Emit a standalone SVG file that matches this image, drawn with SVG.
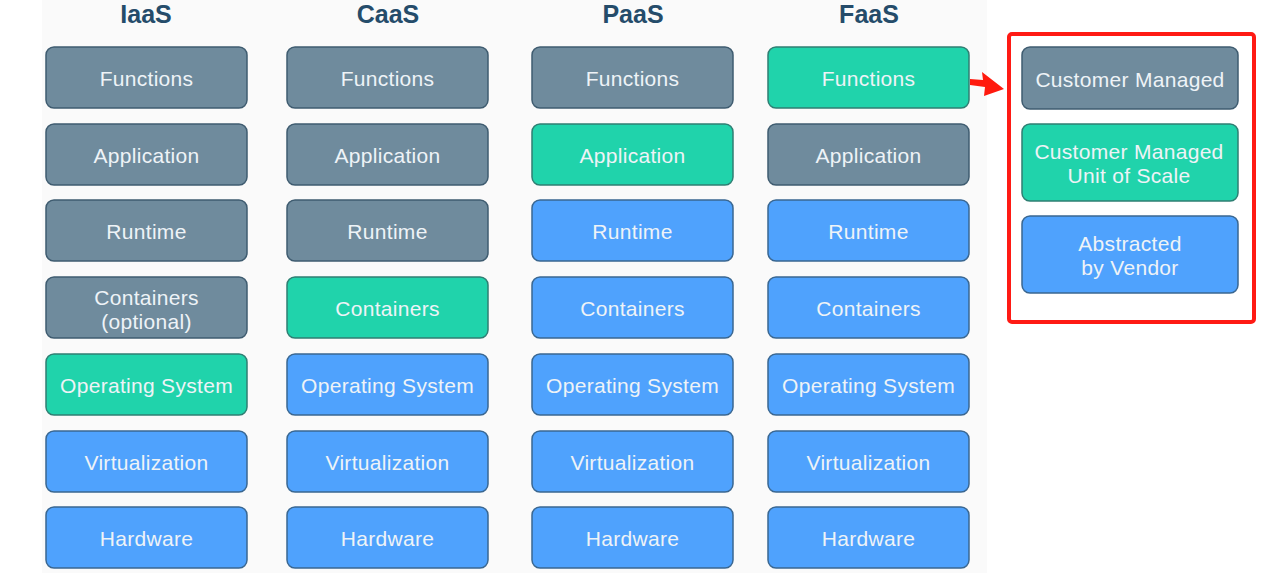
<svg xmlns="http://www.w3.org/2000/svg" width="1283" height="587" viewBox="0 0 1283 587">
<style>
.t{font-family:"Liberation Sans",Arial,sans-serif;font-size:21px;fill:#eef3f7;text-anchor:middle;dominant-baseline:central;letter-spacing:0.3px}
.h{font-family:"Liberation Sans",Arial,sans-serif;font-size:25px;font-weight:bold;fill:#254c6a;text-anchor:middle}
.g{fill:#6f8b9d;stroke:#3f5c70;stroke-width:1.5}
.c{fill:#20d3ab;stroke:#2f7f73;stroke-width:1.5}
.b{fill:#4fa2fd;stroke:#3a6791;stroke-width:1.5}
</style>
<rect width="1283" height="587" fill="#ffffff"/>
<rect x="42" y="0" width="945" height="573" fill="#fafafa"/>
<text class="h" x="146" y="23">IaaS</text>
<text class="h" x="388" y="23">CaaS</text>
<text class="h" x="633" y="23">PaaS</text>
<text class="h" x="869" y="23">FaaS</text>
<g id="iaas">
<rect class="g" x="46" y="47" width="201" height="61" rx="8"/><text class="t" x="146.5" y="78">Functions</text>
<rect class="g" x="46" y="124" width="201" height="61" rx="8"/><text class="t" x="146.5" y="155">Application</text>
<rect class="g" x="46" y="200" width="201" height="61" rx="8"/><text class="t" x="146.5" y="231">Runtime</text>
<rect class="g" x="46" y="277" width="201" height="61" rx="8"/><text class="t" x="146.5" y="297">Containers</text><text class="t" x="146.5" y="321">(optional)</text>
<rect class="c" x="46" y="354" width="201" height="61" rx="8"/><text class="t" x="146.5" y="385">Operating System</text>
<rect class="b" x="46" y="431" width="201" height="61" rx="8"/><text class="t" x="146.5" y="462">Virtualization</text>
<rect class="b" x="46" y="507" width="201" height="61" rx="8"/><text class="t" x="146.5" y="538">Hardware</text>
</g>
<g id="caas">
<rect class="g" x="287" y="47" width="201" height="61" rx="8"/><text class="t" x="387.5" y="78">Functions</text>
<rect class="g" x="287" y="124" width="201" height="61" rx="8"/><text class="t" x="387.5" y="155">Application</text>
<rect class="g" x="287" y="200" width="201" height="61" rx="8"/><text class="t" x="387.5" y="231">Runtime</text>
<rect class="c" x="287" y="277" width="201" height="61" rx="8"/><text class="t" x="387.5" y="308">Containers</text>
<rect class="b" x="287" y="354" width="201" height="61" rx="8"/><text class="t" x="387.5" y="385">Operating System</text>
<rect class="b" x="287" y="431" width="201" height="61" rx="8"/><text class="t" x="387.5" y="462">Virtualization</text>
<rect class="b" x="287" y="507" width="201" height="61" rx="8"/><text class="t" x="387.5" y="538">Hardware</text>
</g>
<g id="paas">
<rect class="g" x="532" y="47" width="201" height="61" rx="8"/><text class="t" x="632.5" y="78">Functions</text>
<rect class="c" x="532" y="124" width="201" height="61" rx="8"/><text class="t" x="632.5" y="155">Application</text>
<rect class="b" x="532" y="200" width="201" height="61" rx="8"/><text class="t" x="632.5" y="231">Runtime</text>
<rect class="b" x="532" y="277" width="201" height="61" rx="8"/><text class="t" x="632.5" y="308">Containers</text>
<rect class="b" x="532" y="354" width="201" height="61" rx="8"/><text class="t" x="632.5" y="385">Operating System</text>
<rect class="b" x="532" y="431" width="201" height="61" rx="8"/><text class="t" x="632.5" y="462">Virtualization</text>
<rect class="b" x="532" y="507" width="201" height="61" rx="8"/><text class="t" x="632.5" y="538">Hardware</text>
</g>
<g id="faas">
<rect class="c" x="768" y="47" width="201" height="61" rx="8"/><text class="t" x="868.5" y="78">Functions</text>
<rect class="g" x="768" y="124" width="201" height="61" rx="8"/><text class="t" x="868.5" y="155">Application</text>
<rect class="b" x="768" y="200" width="201" height="61" rx="8"/><text class="t" x="868.5" y="231">Runtime</text>
<rect class="b" x="768" y="277" width="201" height="61" rx="8"/><text class="t" x="868.5" y="308">Containers</text>
<rect class="b" x="768" y="354" width="201" height="61" rx="8"/><text class="t" x="868.5" y="385">Operating System</text>
<rect class="b" x="768" y="431" width="201" height="61" rx="8"/><text class="t" x="868.5" y="462">Virtualization</text>
<rect class="b" x="768" y="507" width="201" height="61" rx="8"/><text class="t" x="868.5" y="538">Hardware</text>
</g>
<g id="connectors">
<polygon points="970,79 983,80 982,72 1004,89 984,96 985,87 970,85" fill="#ff1a0e"/>
</g>
<g id="legend">
<rect x="1009" y="34" width="245" height="288" rx="3" fill="#ffffff" stroke="#ff1a14" stroke-width="4"/>
<rect class="g" x="1022" y="47" width="216" height="62" rx="8"/><text class="t" x="1130" y="79">Customer Managed</text>
<rect class="c" x="1022" y="124" width="216" height="77" rx="8"/><text class="t" x="1129" y="151">Customer Managed</text><text class="t" x="1129" y="175">Unit of Scale</text>
<rect class="b" x="1022" y="216" width="216" height="77" rx="8"/><text class="t" x="1130" y="243">Abstracted</text><text class="t" x="1130" y="267">by Vendor</text>
</g>
</svg>
